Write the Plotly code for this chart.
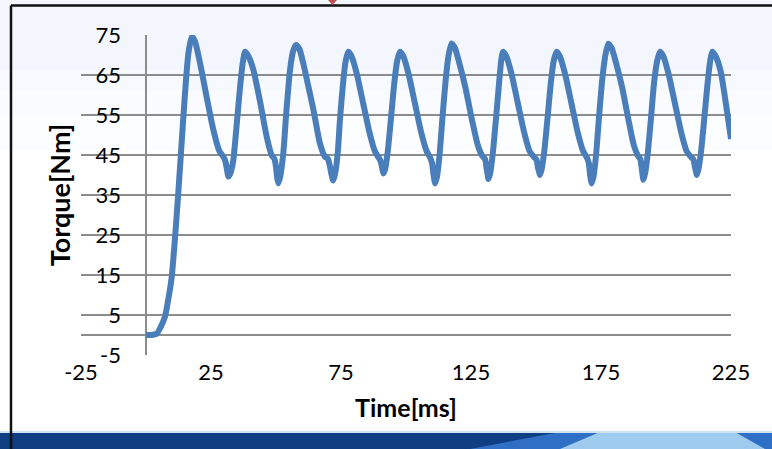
import plotly.graph_objects as go

# ---- data ----
time_ms = [
    0, 2, 4.1, 5.5, 7.3, 8.6, 9.9, 11.2, 12.4, 13.4, 14.3, 15.3, 16.3, 17.6,
    18.8, 20.8, 23.3, 25.9, 28.2, 29.7, 30.5, 31.1, 31.7, 32.5, 33.6, 34.8, 36.2, 37.2, 38.1,
    39.3, 41.3, 44.0, 46.4, 48.3, 49.4, 50.0, 50.4, 50.9, 51.6, 52.8, 54.0, 55.4, 56.6, 57.7,
    59.0, 60.5, 62.5, 64.4, 66.9, 68.8, 70.0, 70.8, 71.4, 72.0, 72.8, 73.8, 74.6, 75.8, 76.8, 77.8,
    79.0, 81.0, 83.5, 86.0, 88.0, 89.2, 90.0, 90.6, 90.9, 91.3, 92.0, 93.0, 94.2, 95.5, 96.6, 97.7,
    98.9, 100.9, 103.4, 105.9, 107.9, 109.3, 110.0, 110.6, 111.2, 111.9, 112.9, 114.1, 115.3, 116.4, 117.5,
    118.8, 120.5, 122.8, 125.3, 127.6, 129.3, 130.4, 130.9, 131.3, 131.7, 132.4, 133.4, 134.6, 135.8, 136.6, 137.3,
    138.5, 140.5, 143.0, 145.5, 147.5, 149.2, 150.2, 150.7, 151.1, 151.5, 152.2, 153.2, 154.4, 155.7, 156.8, 157.9,
    159.1, 161.1, 163.6, 166.1, 168.1, 169.6, 170.3, 170.8, 171.4, 172.1, 173.1, 174.3, 175.5, 176.7, 177.8,
    179.1, 180.8, 183.1, 185.5, 187.6, 189.2, 190.1, 190.6, 190.9, 191.3, 192.0, 193.0, 194.2, 195.4, 196.6, 197.7,
    198.9, 200.9, 203.4, 205.9, 207.9, 209.6, 210.6, 211.1, 211.5, 211.8, 212.5, 213.5, 214.7, 216.0, 217.0, 217.8,
    219.0, 221.0, 223.0, 225.0,
]
torque_nm = [
    0, 0, 0.3, 1.8, 4.6, 9.0, 14.6, 24.6, 35.4, 45.0, 53.8, 63.0, 70.4, 74.6,
    73.5, 67.9, 59.6, 51.3, 46.0, 44.6, 43.5, 41.5, 39.6, 40.5, 43.8, 52.0, 62.1, 68.0, 70.8,
    69.8, 66.3, 57.9, 49.6, 45.0, 44.0, 42.0, 39.5, 37.9, 39.5, 45.4, 56.0, 66.3, 71.0, 72.5,
    71.5, 67.9, 62.0, 56.3, 47.9, 44.6, 44.0, 42.0, 40.0, 38.6, 40.5, 46.0, 53.8, 63.0, 68.5, 70.8,
    69.8, 65.5, 58.0, 50.5, 46.0, 44.6, 43.8, 42.5, 41.5, 40.4, 41.5, 46.0, 54.0, 63.0, 68.5, 70.8,
    69.8, 65.5, 58.0, 50.5, 46.0, 44.3, 43.0, 40.0, 37.9, 39.5, 45.0, 55.0, 64.0, 70.0, 72.9,
    71.8, 68.0, 62.0, 54.0, 47.5, 44.8, 44.0, 42.0, 40.5, 39.0, 40.5, 45.5, 54.0, 63.0, 68.5, 70.8,
    69.8, 65.5, 58.0, 50.5, 46.0, 44.5, 43.8, 42.0, 41.0, 40.0, 41.5, 46.0, 54.0, 63.0, 68.5, 70.8,
    69.8, 65.5, 58.0, 50.5, 46.0, 44.3, 43.0, 40.0, 37.9, 39.5, 45.0, 55.0, 64.0, 70.0, 72.8,
    71.7, 68.0, 62.0, 54.0, 47.5, 44.8, 44.0, 42.0, 40.5, 38.8, 40.5, 45.5, 54.0, 63.0, 68.5, 70.8,
    69.8, 65.5, 58.0, 50.5, 46.0, 44.5, 43.8, 42.0, 41.0, 40.0, 41.5, 46.0, 54.0, 63.0, 68.5, 70.8,
    69.8, 66.0, 58.0, 49.0,
]
x_tick_vals = [-25, 25, 75, 125, 175, 225]
x_tick_text = ["-25", "25", "75", "125", "175", "225"]
y_tick_vals = [-5, 5, 15, 25, 35, 45, 55, 65, 75]
y_tick_text = ["-5", "5", "15", "25", "35", "45", "55", "65", "75"]
x_title = "Time[ms]"
y_title = "Torque[Nm]"

# ---- layout geometry (pixels) ----
W, H = 772, 449
L, R, T, B = 81, 41, 35, 94
PW, PH = W - L - R, H - T - B


def px(x):
    return (x - L) / PW


def py(y):
    return (H - B - y) / PH


GRID = "#8c8c8c"
LINE = "#4a7ebb"

fig = go.Figure()
fig.add_trace(go.Scatter(
    x=time_ms, y=torque_nm, mode="lines",
    line=dict(color=LINE, width=6, shape="spline", smoothing=0.6),
    hoverinfo="skip", showlegend=False,
))

# soft bluish gradient in the upper part of the slide background
bg_steps = [(0, 70, "#f3f7fd"), (70, 90, "#f6f9fe"), (90, 115, "#f9fbfe"), (115, 150, "#fcfdfe")]
shapes = [
    dict(type="rect", xref="paper", yref="paper", layer="below",
         x0=px(0), x1=px(W), y0=py(y1), y1=py(y0),
         fillcolor=c, line=dict(width=0))
    for (y0, y1, c) in bg_steps
]
shapes += [
    # blue band at bottom
    dict(type="rect", xref="paper", yref="paper", layer="above",
         x0=px(0), x1=px(W), y0=py(H), y1=py(432),
         fillcolor="#0f3e82", line=dict(width=0)),
    dict(type="path", xref="paper", yref="paper", layer="above",
         path=f"M {px(470)} {py(H)} L {px(560)} {py(432)} L {px(W)} {py(432)} L {px(W)} {py(H)} Z",
         fillcolor="#2f6fc6", line=dict(width=0)),
    dict(type="path", xref="paper", yref="paper", layer="above",
         path=f"M {px(560)} {py(H)} L {px(600)} {py(432)} L {px(735)} {py(432)} L {px(765)} {py(H)} Z",
         fillcolor="#9fcbef", line=dict(width=0)),
    dict(type="rect", xref="paper", yref="paper", layer="above",
         x0=px(0), x1=px(W), y0=py(433), y1=py(431),
         fillcolor="#cfe3f3", line=dict(width=0)),
    # black frame
    dict(type="line", xref="paper", yref="paper", layer="above",
         x0=px(11), x1=px(11), y0=py(5.5), y1=py(H),
         line=dict(color="#111111", width=2.5)),
    dict(type="line", xref="paper", yref="paper", layer="above",
         x0=px(11), x1=px(W), y0=py(5.5), y1=py(5.5),
         line=dict(color="#111111", width=2.5)),
    # small red marker at top
    dict(type="path", xref="paper", yref="paper", layer="above",
         path=f"M {px(328)} {py(0)} L {px(337)} {py(0)} L {px(332.5)} {py(5)} Z",
         fillcolor="#c0504d", line=dict(width=0)),
]

fig.update_layout(
    width=W, height=H,
    margin=dict(l=L, r=R, t=T, b=B, autoexpand=False),
    paper_bgcolor="#ffffff", plot_bgcolor="rgba(0,0,0,0)",
    font=dict(family="Lato", color="#000000", size=22),
    shapes=shapes,
    xaxis=dict(
        range=[-25, 225], tickmode="array", tickvals=x_tick_vals, ticktext=x_tick_text,
        showgrid=False, zeroline=True, zerolinecolor=GRID, zerolinewidth=2,
        showline=False, ticks="", ticklabelstandoff=2,
        tickfont=dict(size=22), automargin=False,
        title=dict(text=f"<b>{x_title}</b>", font=dict(size=25), standoff=15),
    ),
    yaxis=dict(
        range=[-5, 75], tickmode="array", tickvals=y_tick_vals, ticktext=y_tick_text,
        showgrid=True, gridcolor=GRID, gridwidth=2,
        zeroline=True, zerolinecolor=GRID, zerolinewidth=2,
        showline=False, anchor="free", position=px(146),
        ticks="", ticklabelstandoff=25,
        tickfont=dict(size=22), automargin=False,
        title=dict(text=f"<b>{y_title}</b>", font=dict(size=27), standoff=16),
    ),
)

fig.write_html("out.html")
